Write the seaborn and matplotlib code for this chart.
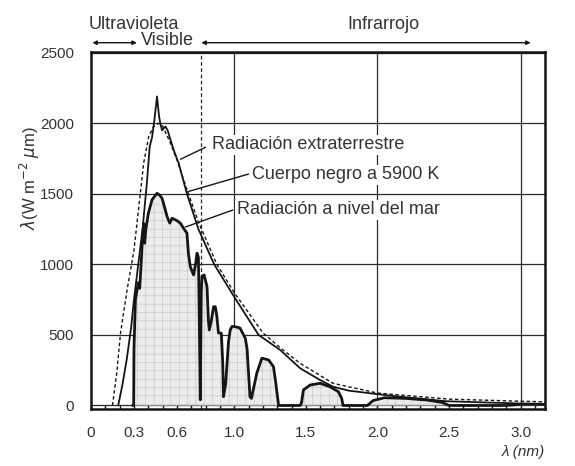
import numpy as np
import pandas as pd
import matplotlib
matplotlib.use("Agg")
import matplotlib.pyplot as plt
import seaborn as sns

# ---- data (wavelength in the units of the original axis) ----
wl_sea = [0.29, 0.298, 0.30, 0.31, 0.33, 0.34, 0.35, 0.36, 0.368, 0.375, 0.383, 0.40,
          0.426, 0.45, 0.461, 0.48, 0.496, 0.515, 0.531, 0.55, 0.566, 0.60, 0.624,
          0.65, 0.67, 0.68, 0.693, 0.716, 0.73, 0.74, 0.75, 0.755, 0.763, 0.77, 0.775,
          0.79, 0.81, 0.82, 0.826, 0.84, 0.856, 0.868, 0.879, 0.89, 0.91, 0.92, 0.925,
          0.94, 0.96, 0.972, 0.984, 1.0, 1.04, 1.077, 1.09, 1.11, 1.12, 1.158, 1.193,
          1.24, 1.274, 1.29, 1.31, 1.46, 1.47, 1.483, 1.53, 1.6, 1.668, 1.727, 1.75,
          1.76, 1.93, 1.97, 2.05, 2.2, 2.35, 2.45, 2.5, 2.9, 3.0, 3.17]
irr_sea = [0, 0, 400, 750, 870, 830, 1000, 1200, 1290, 1150, 1250, 1360,
           1457, 1490, 1504, 1490, 1469, 1400, 1339, 1292, 1327, 1310, 1292,
           1250, 1221, 1079, 984, 925, 1000, 1079, 1050, 700, 40, 800, 913,
           925, 842, 600, 535, 600, 700, 700, 630, 514, 512, 300, 62,
           150, 450, 535, 559, 560, 549, 478, 400, 62, 50, 230, 335,
           323, 275, 160, 0, 0, 20, 110, 145, 157, 133, 98, 51,
           0, 0, 35, 55, 50, 38, 22, 0, 0, 8, 8]

wl_ext = [0.19, 0.22, 0.25, 0.28, 0.30, 0.33, 0.36, 0.39, 0.41, 0.426, 0.44, 0.461,
          0.475, 0.484, 0.496, 0.52, 0.535, 0.577, 0.612, 0.67, 0.75, 0.86, 1.0,
          1.17, 1.32, 1.46, 1.6, 1.69, 1.8, 2.0, 2.2, 2.48, 2.8, 3.0, 3.17]
irr_ext = [0, 150, 330, 550, 750, 1000, 1250, 1575, 1835, 1900, 2000, 2190,
           2050, 2000, 1950, 1977, 1950, 1811, 1717, 1500, 1250, 1000, 770,
           500, 394, 264, 180, 133, 105, 80, 58, 30, 20, 14, 11]

wl_bb = [0.15, 0.18, 0.206, 0.252, 0.30, 0.333, 0.368, 0.403, 0.437, 0.47, 0.50,
         0.55, 0.60, 0.67, 0.75, 0.879, 1.0, 1.2, 1.32, 1.46, 1.69, 2.0, 2.5, 3.0, 3.17]
irr_bb = [0, 230, 512, 819, 1100, 1400, 1720, 1906, 1977, 2000, 1980,
          1870, 1740, 1530, 1300, 1000, 800, 515, 410, 299, 157, 88, 45, 30, 26]

x_ticks = [0, 0.3, 0.6, 1.0, 1.5, 2.0, 2.5, 3.0]
x_tick_labels = ["0", "0.3", "0.6", "1.0", "1.5", "2.0", "2.5", "3.0"]
y_ticks = [0, 500, 1000, 1500, 2000, 2500]
grid_x = [1.0, 2.0, 3.0]
visible_edge = [0.765]

df_sea = pd.DataFrame({"wl": wl_sea, "irr": irr_sea})
df_ext = pd.DataFrame({"wl": wl_ext, "irr": irr_ext})
df_bb = pd.DataFrame({"wl": wl_bb, "irr": irr_bb})

sns.set_theme(style="white")
plt.rcParams["font.family"] = ["Liberation Sans", "DejaVu Sans"]
plt.rcParams["hatch.linewidth"] = 0.4

TXT = "#333333"
INK = "#151515"

fig = plt.figure(figsize=(5.75, 4.66), dpi=100)
fig.patch.set_facecolor("white")
ax = fig.add_axes([91 / 575, 1 - 409 / 466, (545 - 91) / 575, (409 - 52) / 466])
ax.set_facecolor("white")

# grid
ax.set_yticks(y_ticks)
ax.yaxis.grid(True, color="#2a2a2a", lw=0.9)
ax.vlines(grid_x, 0, 1, transform=ax.get_xaxis_transform(), color="#2a2a2a", lw=0.9, zorder=1)
ax.vlines(visible_edge, 0, 1, transform=ax.get_xaxis_transform(), color="#2a2a2a",
          lw=0.9, linestyles=(0, (3, 2)), zorder=1)

# shaded sea-level area
ax.fill_between(df_sea["wl"], df_sea["irr"], 0, facecolor="#ececec", hatch="++",
                edgecolor="#c4c4c4", linewidth=0, zorder=2)

sns.lineplot(data=df_bb, x="wl", y="irr", ax=ax, color=INK, lw=1.0,
             linestyle=(0, (2.5, 1.8)), estimator=None, sort=False, zorder=3)
sns.lineplot(data=df_ext, x="wl", y="irr", ax=ax, color=INK, lw=1.3,
             estimator=None, sort=False, zorder=4)
sns.lineplot(data=df_sea, x="wl", y="irr", ax=ax, color=INK, lw=2.0,
             estimator=None, sort=False, zorder=5)

ax.set_xlim(0, 3.17)
ax.set_ylim(-25, 2505)
ax.set_xticks(x_ticks)
ax.set_xticklabels(x_tick_labels)
ax.set_xticks(np.arange(0.1, 3.15, 0.1), minor=True)
ax.tick_params(axis="x", which="both", direction="in", length=3, width=1, color=INK,
               bottom=True, labelsize=11, labelcolor=TXT, pad=12)
ax.tick_params(axis="y", which="both", length=0, labelsize=11, labelcolor=TXT, pad=12)
ax.set_xlabel("")
ax.set_ylabel("")
for s in ax.spines.values():
    s.set_visible(True)
    s.set_color(INK)
    s.set_linewidth(1.8)

# axis titles
fig.text(545 / 575, 1 - 452 / 466, "λ (nm)", ha="right", va="center", fontsize=11,
         color=TXT, style="italic")
fig.text(30 / 575, 1 - 178 / 466, r"$\lambda$(W m$^{-2}$ $\mu$m)", rotation=90,
         ha="center", va="center", fontsize=12, color=TXT)

# region arrows on top
tr = ax.get_xaxis_transform()
arr = dict(arrowstyle="<|-|>", lw=1.0, color=INK, mutation_scale=6, shrinkA=0, shrinkB=0)
ax.annotate("", xy=(0.01, 1.026), xytext=(0.32, 1.026), xycoords=tr, textcoords=tr,
            arrowprops=arr, annotation_clip=False)
ax.annotate("", xy=(0.77, 1.026), xytext=(3.07, 1.026), xycoords=tr, textcoords=tr,
            arrowprops=arr, annotation_clip=False)
ax.text(-0.02, 1.076, "Ultravioleta", transform=tr, ha="left", va="center",
        fontsize=13, color=TXT)
ax.text(0.35, 1.033, "Visible", transform=tr, ha="left", va="center",
        fontsize=13, color=TXT)
ax.text(2.04, 1.076, "Infrarrojo", transform=tr, ha="center", va="center",
        fontsize=13, color=TXT)

# curve labels with leaders
bb = dict(facecolor="white", edgecolor="none", pad=1.0)
ax.text(0.845, 1847, "Radiación extraterrestre", ha="left", va="center", fontsize=13,
        color=TXT, bbox=bb, zorder=6)
ax.text(1.123, 1634, "Cuerpo negro a 5900 K", ha="left", va="center", fontsize=13,
        color=TXT, bbox=bb, zorder=6)
ax.text(1.019, 1386, "Radiación a nivel del mar", ha="left", va="center", fontsize=13,
        color=TXT, bbox=bb, zorder=6)
ax.plot([0.625, 0.80], [1745, 1830], color=INK, lw=1.0, zorder=6)
ax.plot([0.675, 1.10], [1515, 1640], color=INK, lw=1.0, zorder=6)
ax.plot([0.66, 0.99], [1265, 1385], color=INK, lw=1.0, zorder=6)

fig.savefig("out.png", dpi=100, facecolor="white")
